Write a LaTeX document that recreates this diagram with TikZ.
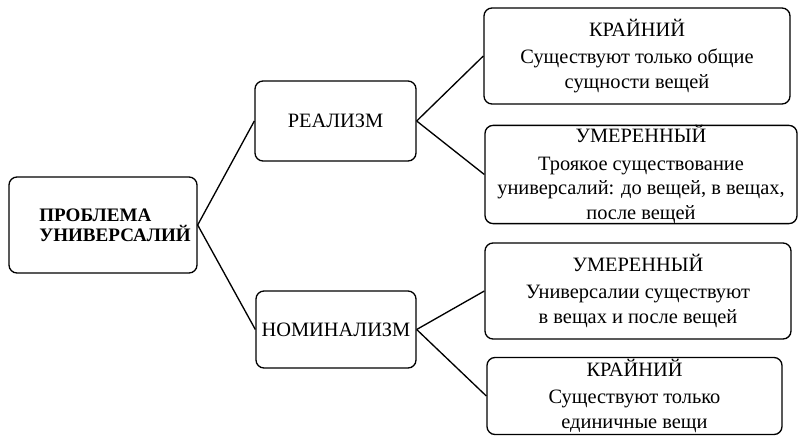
\documentclass[tikz,border=0pt]{standalone}
\usepackage{fontspec}
\setmainfont{Liberation Serif}
\usepackage{tikz}

\tikzset{
  box/.style={draw, line width=1pt, rounded corners=6pt, inner sep=0pt, align=center,
    font=\fontsize{15.3}{18.5}\selectfont},
  link/.style={line width=1pt},
}

\begin{document}
\begin{tikzpicture}[x=0.75pt,y=0.75pt,yscale=-1,xscale=1]
  \path[use as bounding box] (0,0) rectangle (799,436);

  %Rounded Rect [root]
  \node[box, minimum width=141pt, minimum height=72pt, align=left,
    font=\bfseries\fontsize{14.3}{15}\selectfont] (root) at (103,225)
    {\hspace*{18pt}ПРОБЛЕМА\\\hspace*{18pt}УНИВЕРСАЛИЙ};
  %Rounded Rect [realism]
  \node[box, minimum width=120.75pt, minimum height=60pt] (real) at (335.5,121) {РЕАЛИЗМ};
  %Rounded Rect [nominalism]
  \node[box, minimum width=120pt, minimum height=57.75pt] (nomin) at (336,329.5) {НОМИНАЛИЗМ};

  %Rounded Rect [realism, extreme]
  \node[box, minimum width=229.5pt, minimum height=72pt] (realx) at (637,56)
    {КРАЙНИЙ\\[2pt]Существуют только общие\\сущности вещей};
  %Rounded Rect [realism, moderate]
  \node[box, minimum width=234pt, minimum height=72.75pt] (realm) at (641,174.5)
    {УМЕРЕННЫЙ\\[2pt]Троякое существование\\универсалий: до вещей, в вещах,\\после вещей};
  %Rounded Rect [nominalism, moderate]
  \node[box, minimum width=229.5pt, minimum height=72pt] (nominm) at (638,291)
    {УМЕРЕННЫЙ\\[2pt]Универсалии существуют\\в вещах и после вещей};
  %Rounded Rect [nominalism, extreme]
  \node[box, minimum width=221.25pt, minimum height=57.75pt] (nominx) at (634.5,396)
    {КРАЙНИЙ\\[2pt]Существуют только\\единичные вещи};

  %Straight Lines
  \draw[link] (root.east) -- (real.west);
  \draw[link] (root.east) -- (nomin.west);
  \draw[link] (real.east) -- (realx.west);
  \draw[link] (real.east) -- (realm.west);
  \draw[link] (nomin.east) -- (nominm.west);
  \draw[link] (nomin.east) -- (nominx.west);

\end{tikzpicture}
\end{document}
